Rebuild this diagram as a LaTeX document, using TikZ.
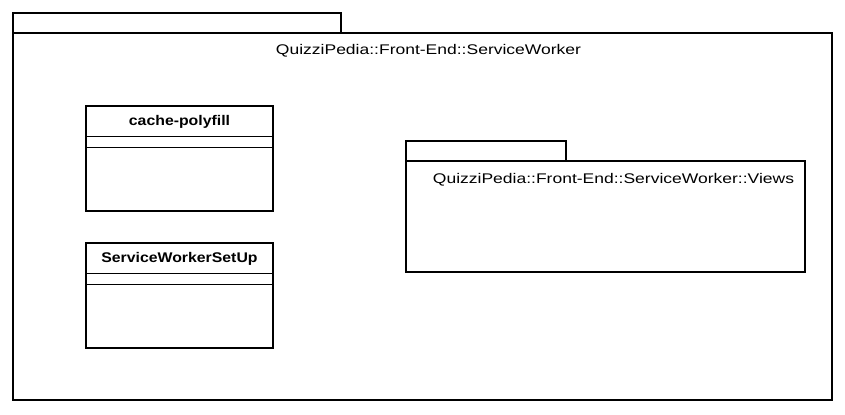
\documentclass[tikz,border=0pt]{standalone}
\usepackage{fontspec}
\setmainfont{Liberation Sans}
\newfontfamily\umlfont{Liberation Sans}[FakeStretch=1.25]
\newfontfamily\umlboldfont{Liberation Sans Bold}[FakeStretch=1.13]
\begin{document}
\begin{tikzpicture}[x=0.75pt,y=-0.75pt,line width=1.5pt,
  umltext/.style={font=\fontsize{10.5}{12}\umlfont},
  classname/.style={font=\fontsize{10.5}{12}\umlboldfont},
  compline/.style={line width=0.75pt}]
\useasboundingbox (0,0) rectangle (845,414);
% Outer package
\draw (13,13) rectangle (341,33);
\draw[fill=white] (13,33) rectangle (832,400);
\node[umltext] (outertitle) at (428.5,51) {QuizziPedia::Front-End::ServiceWorker};

% Class cache-polyfill
\draw (86,106) rectangle (273,211);
\draw[compline] (86,136) -- (273,136);
\draw[compline] (86,147) -- (273,147);
\node[classname] (cachepolyfill) at (179.5,122) {cache-polyfill};

% Class ServiceWorkerSetUp
\draw (86,243) rectangle (273,348);
\draw[compline] (86,273) -- (273,273);
\draw[compline] (86,284) -- (273,284);
\node[classname] (swsetup) at (179.5,259) {ServiceWorkerSetUp};

% Inner package
\draw (406,141) rectangle (566,161);
\draw[fill=white] (406,161) rectangle (805,272);
\node[umltext] (innertitle) at (613.5,180) {QuizziPedia::Front-End::ServiceWorker::Views};
\end{tikzpicture}
\end{document}
